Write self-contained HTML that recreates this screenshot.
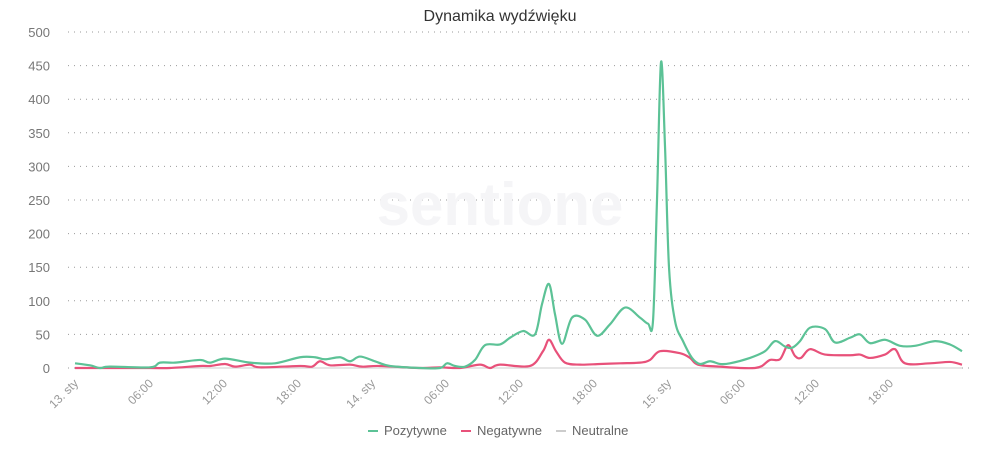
<!DOCTYPE html>
<html><head><meta charset="utf-8"><style>
body{margin:0;background:#fff;}
svg{display:block;font-family:"Liberation Sans",sans-serif;}
</style></head><body>
<svg id="s" width="1000" height="450" xmlns="http://www.w3.org/2000/svg">
<text x="500" y="21" text-anchor="middle" font-size="16" fill="#333">Dynamika wydźwięku</text>
<g id="grid"></g>
<text x="500" y="225" text-anchor="middle" font-size="60" fill="#f5f5f7" font-weight="bold">sentione</text>
<path id="neu" fill="none" stroke="#dddddd" stroke-width="1.5"/>
<path id="neg" fill="none" stroke="#e8517a" stroke-width="2.2"/>
<path id="pos" fill="none" stroke="#5cc296" stroke-width="2.2"/>
<g font-size="13" fill="#666">
<line x1="368" y1="431" x2="378" y2="431" stroke="#5cc296" stroke-width="2"/><text x="384" y="435">Pozytywne</text>
<line x1="461" y1="431" x2="471" y2="431" stroke="#e8517a" stroke-width="2"/><text x="477" y="435">Negatywne</text>
<line x1="556" y1="431" x2="566" y2="431" stroke="#ccc" stroke-width="2"/><text x="572" y="435">Neutralne</text>
</g>
</svg>
<script>
var g=document.getElementById('grid'),h='';
function Y(v){return 368-v*0.672;}
for(var v=0;v<=500;v+=50){var y=Y(v);h+='<line x1="68" x2="970" y1="'+y+'" y2="'+y+'" stroke="#999" stroke-width="1" stroke-dasharray="1,5"/>';
h+='<text x="50" y="'+(y+5)+'" text-anchor="end" font-size="13" fill="#777">'+v+'</text>';}
var tl=[[75,'13. sty'],[150,'06:00'],[224,'12:00'],[298,'18:00'],[372,'14. sty'],[446,'06:00'],[520,'12:00'],[594,'18:00'],[668,'15. sty'],[742,'06:00'],[816,'12:00'],[890,'18:00']];
tl.forEach(function(t){h+='<text transform="translate('+(t[0]+4)+',384) rotate(-45)" text-anchor="end" font-size="12" fill="#999">'+t[1]+'</text>';});
g.innerHTML=h;
function path(p){var d='M'+p[0][0]+','+Y(p[0][1]);for(var i=0;i<p.length-1;i++){var a=p[i>0?i-1:0],b=p[i],c=p[i+1],e=p[i+2<p.length?i+2:i+1];
var x1=b[0]+(c[0]-a[0])/6,y1=Y(b[1])+(Y(c[1])-Y(a[1]))/6,x2=c[0]-(e[0]-b[0])/6,y2=Y(c[1])-(Y(e[1])-Y(b[1]))/6;
d+=' C'+x1+','+y1+' '+x2+','+y2+' '+c[0]+','+Y(c[1]);}return d;}
var pos=[[75,7],[90,4],[100,0],[110,2],[150,1],[160,8],[175,8],[200,12],[210,8],[225,14],[250,8],[275,7],[300,16],[315,16],[325,13],[340,16],[350,10],[360,17],[375,10],[390,3],[420,0],[440,0],[447,7],[455,3],[465,2],[475,12],[485,34],[500,35],[510,45],[523,55],[535,50],[542,95],[549,125],[555,80],[562,36],[572,75],[585,72],[597,48],[610,65],[625,90],[640,75],[648,66],[653,70],[657,250],[661,455],[665,330],[669,150],[675,70],[683,40],[692,15],[700,6],[710,10],[720,6],[730,7],[750,15],[765,25],[775,40],[785,32],[792,30],[800,40],[810,60],[825,58],[835,38],[850,45],[860,50],[870,37],[885,42],[900,33],[915,33],[935,40],[950,35],[962,25]];
var neg=[[75,0],[150,0],[170,0],[200,3],[210,3],[225,6],[235,2],[250,5],[260,1],[300,3],[312,2],[320,10],[330,4],[350,5],[362,2],[380,3],[420,0],[440,1],[460,0],[480,5],[490,0],[500,5],[530,3],[543,25],[549,42],[556,25],[565,8],[580,5],[600,6],[620,7],[640,8],[650,12],[660,25],[680,22],[690,15],[698,5],[720,2],[740,0],[755,0],[762,3],[770,12],[780,13],[788,34],[795,18],[801,15],[810,28],[825,20],[850,19],[860,20],[870,15],[885,20],[895,28],[905,7],[930,7],[950,9],[962,5]];
var neu=[[75,0],[962,0]];
document.getElementById('pos').setAttribute('d',path(pos));
document.getElementById('neg').setAttribute('d',path(neg));
document.getElementById('neu').setAttribute('d',path(neu));
</script>
</body></html>
